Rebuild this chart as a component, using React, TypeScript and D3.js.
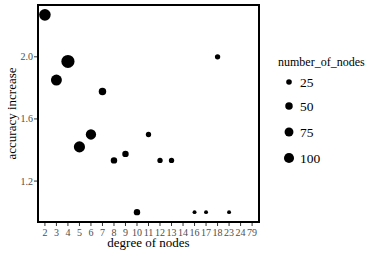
import React from "react";
import * as d3 from "d3";

const categories = ["2","3","4","5","6","7","8","9","10","11","12","13","14","16","17","18","23","24","79"];
const pointDegree = ["2","3","4","5","6","7","8","9","10","11","12","13","16","17","18","23"];
const accuracyIncrease = [2.27,1.85,1.97,1.42,1.5,1.777,1.333,1.375,1.0,1.5,1.333,1.333,1.0,1.0,2.0,1.0];
const numberOfNodes = [135,120,180,125,105,50,35,35,35,22,22,22,10,10,22,10];
const yTicks = [1.2, 1.6, 2.0];
const legendBreaks = [25, 50, 75, 100];

const W = 382, H = 255;
const panel = { left: 38, right: 259, top: 5, bottom: 222 };
const font = "'Liberation Serif', 'Times New Roman', Times, 'DejaVu Serif', serif";

export default function App() {
  const x = d3.scalePoint<string>().domain(categories).range([panel.left, panel.right]).padding(0.6);
  const [ymin, ymax] = d3.extent(accuracyIncrease) as [number, number];
  const pad = (ymax - ymin) * 0.05;
  const y = d3.scaleLinear().domain([ymin - pad, ymax + pad]).range([panel.bottom, panel.top]);
  const r = d3.scaleSqrt().domain([0, 100]).range([0.55, 5.05]);

  const legendY = [82, 106, 132, 158];

  return (
    <svg width={W} height={H} style={{ position: "absolute", left: 0, top: 0, background: "#fff", fontFamily: font }}>
      <rect x={0} y={0} width={W} height={H} fill="#fff" />
      {pointDegree.map((d, i) => (
        <circle key={i} cx={x(d)} cy={y(accuracyIncrease[i])} r={r(numberOfNodes[i])} fill="#000" />
      ))}
      <rect x={panel.left} y={panel.top} width={panel.right - panel.left} height={panel.bottom - panel.top}
        fill="none" stroke="#000" strokeWidth={2} />
      {yTicks.map((t) => (
        <g key={t}>
          <line x1={panel.left - 4} x2={panel.left - 1} y1={y(t)} y2={y(t)} stroke="#333" strokeWidth={1} />
          <text x={panel.left - 5} y={y(t)} dy="0.35em" textAnchor="end" fontSize={10} fill="#4d4d4d" style={{ fontFamily: font }}>{t.toFixed(1)}</text>
        </g>
      ))}
      {categories.map((c) => (
        <g key={c}>
          <line x1={x(c)} x2={x(c)} y1={panel.bottom + 1} y2={panel.bottom + 4} stroke="#333" strokeWidth={1} />
          <text x={x(c)} y={panel.bottom + 14} textAnchor="middle" fontSize={10} fill="#4d4d4d" style={{ fontFamily: font }}>{c}</text>
        </g>
      ))}
      <text x={(panel.left + panel.right) / 2} y={247} textAnchor="middle" fontSize={13} fill="#000" style={{ fontFamily: font }}>degree of nodes</text>
      <text transform={`translate(16,${(panel.top + panel.bottom) / 2}) rotate(-90)`} textAnchor="middle" fontSize={13} fill="#000" style={{ fontFamily: font }}>accuracy increase</text>
      <text x={278} y={66} fontSize={12} fill="#000" style={{ fontFamily: font }}>number_of_nodes</text>
      {legendBreaks.map((b, i) => (
        <g key={b}>
          <circle cx={289} cy={legendY[i]} r={r(b)} fill="#000" />
          <text x={300} y={legendY[i]} dy="0.35em" fontSize={13.5} fill="#000" style={{ fontFamily: font }}>{b}</text>
        </g>
      ))}
    </svg>
  );
}
